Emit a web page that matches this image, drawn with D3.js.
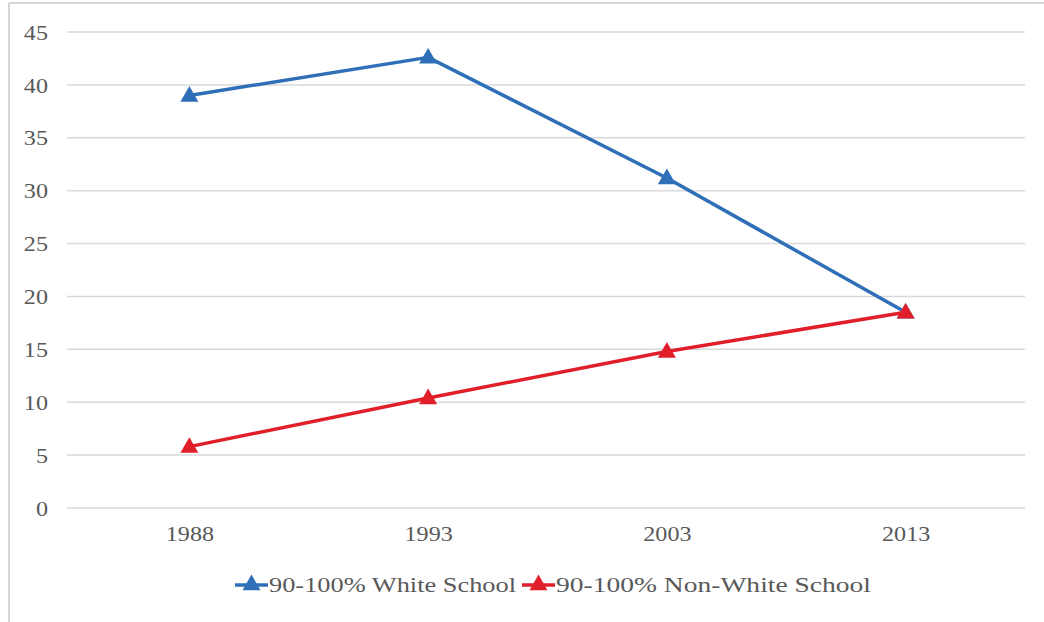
<!DOCTYPE html>
<html>
<head>
<meta charset="utf-8">
<script src="https://cdn.jsdelivr.net/npm/d3@7"></script>
<style>
  html, body { margin: 0; padding: 0; background: #fff; }
  svg text { font-family: "Liberation Serif", "DejaVu Serif", serif; fill: #595959; }
</style>
</head>
<body>
<svg id="chart" width="1044" height="622"></svg>
<script>
// Share of students attending 90-100% segregated schools, by year
const years = ["1988", "1993", "2003", "2013"];
const whiteSchool = [39.0, 42.6, 31.2, 18.5];
const nonWhiteSchool = [5.8, 10.4, 14.8, 18.5];
const yTicks = [0, 5, 10, 15, 20, 25, 30, 35, 40, 45];
const seriesNames = ["90-100% White School", "90-100% Non-White School"];
const seriesColors = ["#2e6fb7", "#e01f2b"];

const svg = d3.select("#chart");
const W = 1044, H = 622;
const plot = { left: 70, right: 1025, top: 32, bottom: 508 };

// outer frame (top and left edges)
svg.append("line").attr("x1", 9).attr("x2", W).attr("y1", 3).attr("y2", 3)
  .attr("stroke", "#d4d4d4").attr("stroke-width", 2);
svg.append("line").attr("x1", 9).attr("x2", 9).attr("y1", 3).attr("y2", H)
  .attr("stroke", "#d4d4d4").attr("stroke-width", 2);

const x = d3.scalePoint().domain(years).range([plot.left, plot.right]).padding(0.5);
const y = d3.scaleLinear().domain([0, 45]).range([plot.bottom, plot.top]);

// horizontal gridlines
svg.append("g").selectAll("line").data(yTicks).join("line")
  .attr("x1", plot.left - 3).attr("x2", plot.right)
  .attr("y1", d => y(d)).attr("y2", d => y(d))
  .attr("stroke", "#d9d9d9").attr("stroke-width", 1.5);

// y axis labels (slightly widened glyphs)
const yAxis = d3.axisLeft(y).tickValues(yTicks).tickSize(0).tickPadding(0);
const gy = svg.append("g").attr("transform", "translate(48,0)").call(yAxis);
gy.select(".domain").remove();
gy.selectAll("text").attr("font-size", 21)
  .attr("text-anchor", "end").attr("x", 0).attr("dy", "0.34em")
  .attr("transform", "scale(1.15,1)");

// x axis labels
const xAxis = d3.axisBottom(x).tickSize(0).tickPadding(0);
const gx = svg.append("g").attr("transform", `translate(0,${plot.bottom + 18})`).call(xAxis);
gx.select(".domain").remove();
gx.selectAll("text").attr("font-size", 21).attr("dy", "0.71em")
  .attr("transform", "scale(1.15,1)");

const tri = d3.symbol().type(d3.symbolTriangle).size(140);
const series = [whiteSchool, nonWhiteSchool];
const line = d3.line().x((d, i) => x(years[i])).y(d => y(d));

series.forEach((vals, k) => {
  const g = svg.append("g");
  g.append("path").datum(vals).attr("d", line)
    .attr("fill", "none").attr("stroke", seriesColors[k]).attr("stroke-width", 3.5)
    .attr("stroke-linejoin", "round");
  g.selectAll("path.m").data(vals).join("path").attr("class", "m")
    .attr("d", tri)
    .attr("transform", (d, i) => `translate(${x(years[i])},${y(d) + 1})`)
    .attr("fill", seriesColors[k]);
});

// legend
const legendY = 585;
const legendItems = [
  { x: 235, textWidth: 247 },
  { x: 522, textWidth: 315 }
];
legendItems.forEach((it, k) => {
  const g = svg.append("g");
  g.append("line").attr("x1", it.x).attr("x2", it.x + 33)
    .attr("y1", legendY).attr("y2", legendY)
    .attr("stroke", seriesColors[k]).attr("stroke-width", 3.5);
  g.append("path").attr("d", tri)
    .attr("transform", `translate(${it.x + 16.5},${legendY})`)
    .attr("fill", seriesColors[k]);
  g.append("text").attr("x", it.x + 34).attr("y", legendY).attr("dy", "0.34em")
    .attr("font-size", 22)
    .attr("textLength", it.textWidth).attr("lengthAdjust", "spacingAndGlyphs")
    .text(seriesNames[k]);
});
</script>
</body>
</html>
